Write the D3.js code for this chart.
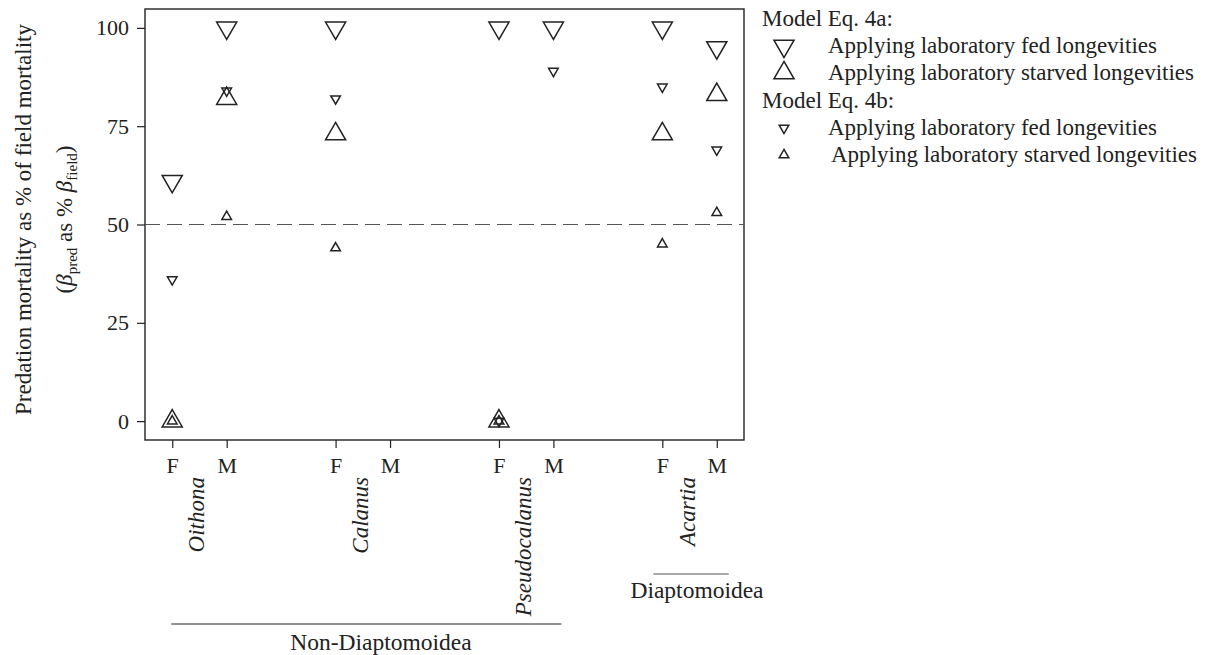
<!DOCTYPE html>
<meta charset="utf-8">
<style>
  body { margin: 0; background: #fff; }
  text { font-family: "Liberation Serif", "Times New Roman", serif; fill: #222; }
</style>
<script src="https://d3js.org/d3.v7.min.js"></script>
<svg id="chart" width="1206" height="655"></svg>
<script>

// categories (F / M of each genus)
var species = ["Oithona", "Calanus", "Pseudocalanus", "Acartia"];
var sexes = ["F", "M"];
var yTicks = [0, 25, 50, 75, 100];

// predation mortality as % of field mortality (null = no value)
var fed4a     = [61, 100, 100, null, 100, 100, 100, 95];
var starved4a = [0,  82,  73,  null, 0,   null, 73,  83];
var fed4b     = [36, 84,  82,  null, 0,   89,  85,  69];
var starved4b = [0,  52,  44,  null, 0,   null, 45,  53];

var svg = d3.select("#chart");
var mLeft = 145, mRight = 744, mTop = 9, mBottom = 440;

// category keys with spacers between the genera
var cats = [];
species.forEach(function(s, i) {
  sexes.forEach(function(x) { cats.push(s + " " + x); });
  if (i < species.length - 1) cats.push("gap" + i);
});
var realCats = cats.filter(function(c) { return c.indexOf("gap") != 0; });

var x = d3.scalePoint().domain(cats).range([mLeft, mRight]).padding(0.5);
var y = d3.scaleLinear().domain([-4.8, 104.8]).range([mBottom, mTop]);

// frame
svg.append("rect")
  .attr("x", mLeft).attr("y", mTop)
  .attr("width", mRight - mLeft).attr("height", mBottom - mTop)
  .attr("fill", "none").attr("stroke", "#222").attr("stroke-width", 1.4);

// y axis
var yAxis = svg.append("g")
  .attr("transform", "translate(" + mLeft + ",0)")
  .call(d3.axisLeft(y).tickValues(yTicks).tickSize(8).tickPadding(8));
yAxis.select(".domain").remove();
yAxis.selectAll("line").attr("stroke", "#222").attr("stroke-width", 1.2);
yAxis.selectAll("text").attr("font-size", 22).attr("font-family", "Liberation Serif").attr("fill", "#222");

// x axis ticks
var xAxis = svg.append("g")
  .attr("transform", "translate(0," + mBottom + ")")
  .call(d3.axisBottom(x).tickValues(realCats).tickSize(8).tickPadding(9)
    .tickFormat(function(d) { return d.split(" ")[1]; }));
xAxis.select(".domain").remove();
xAxis.selectAll("line").attr("stroke", "#222").attr("stroke-width", 1.2);
xAxis.selectAll("text").attr("font-size", 22).attr("font-family", "Liberation Serif").attr("fill", "#222");

// genus labels, rotated
species.forEach(function(s) {
  var mid = (x(s + " F") + x(s + " M")) / 2;
  svg.append("text")
    .attr("transform", "translate(" + (mid + 5) + ",477) rotate(-90)")
    .attr("text-anchor", "end")
    .attr("font-size", 23)
    .attr("font-style", "italic")
    .text(s);
});

// group lines
svg.append("line")
  .attr("x1", x("Oithona F") - 1).attr("x2", x("Pseudocalanus M") + 8)
  .attr("y1", 624).attr("y2", 624)
  .attr("stroke", "#222").attr("stroke-width", 1);
svg.append("text")
  .attr("x", 381).attr("y", 650)
  .attr("text-anchor", "middle").attr("font-size", 23.5)
  .text("Non-Diaptomoidea");
svg.append("line")
  .attr("x1", x("Acartia F") - 9).attr("x2", x("Acartia M") + 12)
  .attr("y1", 574).attr("y2", 574)
  .attr("stroke", "#555").attr("stroke-width", 1);
svg.append("text")
  .attr("x", 697).attr("y", 598)
  .attr("text-anchor", "middle").attr("font-size", 23.5)
  .text("Diaptomoidea");

// 50 % reference line
svg.append("line")
  .attr("x1", mLeft).attr("x2", mRight)
  .attr("y1", y(50)).attr("y2", y(50))
  .attr("stroke", "#555").attr("stroke-width", 1.2)
  .attr("stroke-dasharray", "15,7");

// y axis title
var yt = svg.append("g").attr("transform", "translate(0," + ((mTop + mBottom) / 2 - 5) + ") rotate(-90)");
yt.append("text")
  .attr("x", 0).attr("y", 31)
  .attr("text-anchor", "middle").attr("font-size", 23)
  .text("Predation mortality as % of field mortality");
var t2 = yt.append("text")
  .attr("x", 0).attr("y", 72)
  .attr("text-anchor", "middle").attr("font-size", 23);
t2.append("tspan").text("(");
t2.append("tspan").attr("font-style", "italic").text("β");
t2.append("tspan").attr("font-size", 15).attr("dy", 5).text("pred");
t2.append("tspan").attr("dy", -5).text(" as % ");
t2.append("tspan").attr("font-style", "italic").text("β");
t2.append("tspan").attr("font-size", 15).attr("dy", 5).text("field");
t2.append("tspan").attr("dy", -5).text(")");

// markers
var bigArea = 175, smallArea = 40;
var series = [
  { name: "fed4a", values: fed4a, area: bigArea, down: true },
  { name: "starved4a", values: starved4a, area: bigArea, down: false },
  { name: "fed4b", values: fed4b, area: smallArea, down: true },
  { name: "starved4b", values: starved4b, area: smallArea, down: false }
];
var tri = d3.symbol().type(d3.symbolTriangle);

series.forEach(function(s) {
  svg.append("g").selectAll("path")
    .data(s.values.map(function(v, i) { return { cat: realCats[i], v: v }; })
      .filter(function(d) { return d.v != null; }))
    .enter().append("path")
      .attr("d", tri.size(s.area)())
      .attr("transform", function(d) {
        return "translate(" + x(d.cat) + "," + y(d.v) + ")" + (s.down ? " rotate(180)" : "");
      })
      .attr("fill", "none")
      .attr("stroke", "#222")
      .attr("stroke-width", 1.5);
});

// legend
var lg = svg.append("g");
var legendRows = [
  { head: "Model Eq. 4a:", y: 26 },
  { label: "Applying laboratory fed longevities", area: bigArea, down: true, y: 53, tx: 828 },
  { label: "Applying laboratory starved longevities", area: bigArea, down: false, y: 80, tx: 828 },
  { head: "Model Eq. 4b:", y: 108 },
  { label: "Applying laboratory fed longevities", area: smallArea, down: true, y: 135, tx: 828 },
  { label: "Applying laboratory starved longevities", area: smallArea, down: false, y: 162, tx: 831 }
];
legendRows.forEach(function(r) {
  if (r.head) {
    lg.append("text").attr("x", 762).attr("y", r.y).attr("font-size", 23).text(r.head);
    return;
  }
  var my = r.y - 7;
  lg.append("path")
    .attr("d", tri.size(r.area)())
    .attr("transform", "translate(784," + my + ")" + (r.down ? " rotate(180)" : ""))
    .attr("fill", "none").attr("stroke", "#222").attr("stroke-width", 1.5);
  lg.append("text").attr("x", r.tx).attr("y", r.y).attr("font-size", 23).text(r.label);
});

</script>
